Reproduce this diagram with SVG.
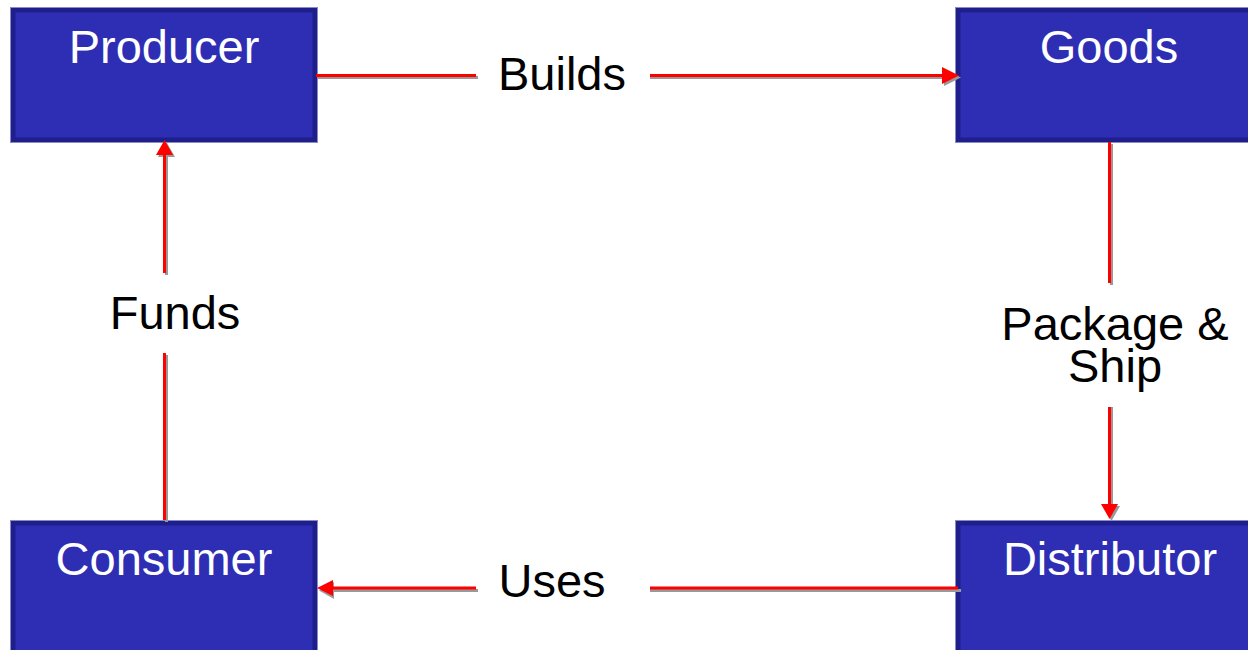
<svg xmlns="http://www.w3.org/2000/svg" width="1248" height="650" viewBox="0 0 1248 650">
<style>
.box{fill:#2e2eb4;stroke:#1f1f8c;stroke-width:5}
.edge{fill:none;stroke:#8a8ac8;stroke-width:1}
.nt{font-family:"Liberation Sans",Arial,sans-serif;font-size:47px;fill:#ffffff;text-anchor:middle}
.lt{font-family:"Liberation Sans",Arial,sans-serif;font-size:47px;fill:#000000;text-anchor:middle}
.ln{stroke:#ff0000;stroke-width:3;fill:none}
.sh{stroke:#999999;stroke-width:3;fill:none}
.ah{fill:#ff0000}
.ahs{fill:#999999}
</style>
<rect width="1248" height="650" fill="#ffffff"/>
<g id="producer">
<rect class="box" x="13" y="10" width="302" height="130"/>
<rect class="edge" x="10.5" y="7.5" width="307" height="135"/>
<text class="nt" x="164" y="63">Producer</text>
</g>
<g id="goods">
<rect class="box" x="958" y="10" width="302" height="130"/>
<rect class="edge" x="955.5" y="7.5" width="307" height="135"/>
<text class="nt" x="1109" y="63">Goods</text>
</g>
<g id="consumer">
<rect class="box" x="13" y="523" width="302" height="130"/>
<rect class="edge" x="10.5" y="520.5" width="307" height="135"/>
<text class="nt" x="164" y="575">Consumer</text>
</g>
<g id="distributor">
<rect class="box" x="958" y="523" width="302" height="130"/>
<rect class="edge" x="955.5" y="520.5" width="307" height="135"/>
<text class="nt" x="1110" y="575">Distributor</text>
</g>
<g id="connectors">
<!-- Builds -->
<line class="sh" x1="318" y1="77.5" x2="478" y2="77.5"/>
<line class="sh" x1="650" y1="77.5" x2="944" y2="77.5"/>
<polygon class="ahs" points="944,69 961,77.5 944,86"/>
<line class="ln" x1="316" y1="75.5" x2="476" y2="75.5"/>
<line class="ln" x1="650" y1="75.5" x2="943" y2="75.5"/>
<polygon class="ah" points="942,67 959,75.5 942,84"/>
<text class="lt" x="562" y="90">Builds</text>
<!-- Package & Ship -->
<line class="sh" x1="1111.5" y1="144" x2="1111.5" y2="285"/>
<line class="sh" x1="1111.5" y1="407" x2="1111.5" y2="506"/>
<polygon class="ahs" points="1103,506 1120,506 1111.5,521"/>
<line class="ln" x1="1109.5" y1="142" x2="1109.5" y2="283"/>
<line class="ln" x1="1109.5" y1="407" x2="1109.5" y2="505"/>
<polygon class="ah" points="1101,504 1118,504 1109.5,519"/>
<text class="lt" x="1115" y="340">Package &amp;<tspan x="1115" y="382">Ship</tspan></text>
<!-- Uses -->
<line class="sh" x1="961" y1="590.5" x2="650" y2="590.5"/>
<line class="sh" x1="478" y1="590.5" x2="334" y2="590.5"/>
<polygon class="ahs" points="334,582 319,590.5 334,599"/>
<line class="ln" x1="958" y1="588" x2="650" y2="588"/>
<line class="ln" x1="476" y1="588" x2="332" y2="588"/>
<polygon class="ah" points="333,580 317,588 333,596"/>
<text class="lt" x="552" y="597">Uses</text>
<!-- Funds -->
<line class="sh" x1="166.5" y1="522" x2="166.5" y2="355"/>
<line class="sh" x1="166.5" y1="275" x2="166.5" y2="156"/>
<polygon class="ahs" points="158,157 175,157 166.5,142"/>
<line class="ln" x1="164.5" y1="520" x2="164.5" y2="353"/>
<line class="ln" x1="164.5" y1="273" x2="164.5" y2="154"/>
<polygon class="ah" points="156,155 173,155 164.5,140"/>
<text class="lt" x="175" y="329">Funds</text>
</g>
</svg>
